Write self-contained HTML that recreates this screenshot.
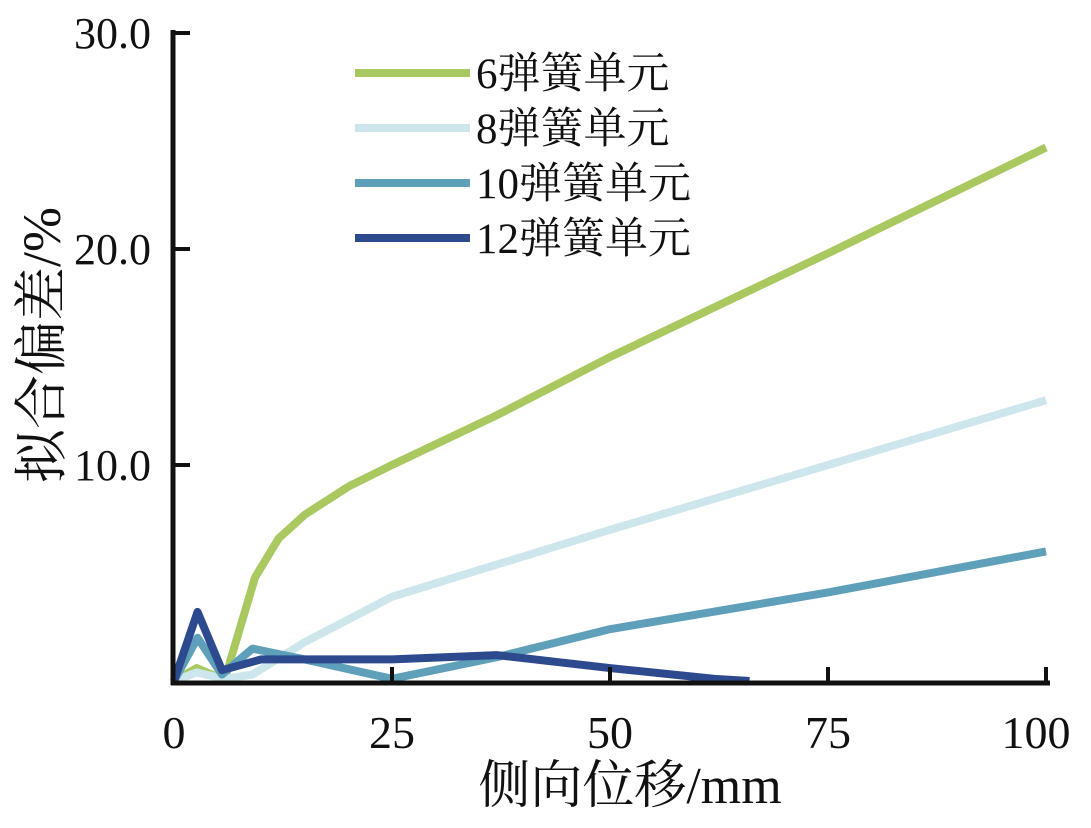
<!DOCTYPE html>
<html><head><meta charset="utf-8"><style>
body{margin:0;background:#fff}
text{font-family:"Liberation Serif","Noto Serif CJK SC",serif}
</style></head><body>
<svg id="chart" width="1091" height="823" xmlns="http://www.w3.org/2000/svg"></svg>
<script>
const xTicks=[0,25,50,75,100];
const yTicks=[10,20,30];
const yTickLabels=["10.0","20.0","30.0"];
const seriesNames=["6弹簧单元","8弹簧单元","10弹簧单元","12弹簧单元"];
const s6x=[0,2.6,5.8,9.3,12,15,20,25,37,50,75,100];
const s6y=[0,0.6,0.05,4.8,6.6,7.7,9.0,10,12.3,15,19.8,24.7];
const s8x=[0,2.6,5.8,9,15,25,50,75,100];
const s8y=[0,0.4,0.1,0.3,1.8,3.9,7,10,13];
const s10x=[0,2.7,5.5,9,15,25,37,50,75,100];
const s10y=[0,2,0.3,1.5,1,0.1,1.1,2.4,4.1,6];
const s12x=[0,2.7,5.5,10,25,37,50,62,66];
const s12y=[0,3.2,0.5,1,1,1.2,0.6,0.1,0];
const colors=["#a9c860","#cce6ec","#5e9fba","#2e4a8f"];
const NS="http://www.w3.org/2000/svg";
const svg=document.getElementById('chart');
const X=v=>174+v*8.72, Y=v=>681-v*21.6;
function mk(t,a,p){const e=document.createElementNS(NS,t);for(const k in a)e.setAttribute(k,a[k]);(p||svg).appendChild(e);return e;}
const xs=[s6x,s8x,s10x,s12x], ys=[s6y,s8y,s10y,s12y];
xs.forEach((sx,i)=>{
  const l=mk('polyline',{points:sx.map((x,j)=>X(x)+','+Y(ys[i][j])).join(' '),fill:'none',stroke:colors[i],'stroke-width':8,'stroke-linejoin':'round'});
  
  
});
let a=mk('line',{x1:173,y1:30,x2:173,y2:685,stroke:'#111','stroke-width':5});

a=mk('line',{x1:171,y1:683,x2:1050,y2:683,stroke:'#111','stroke-width':5});

xTicks.forEach(v=>{
  if(v>0){const t=mk('line',{x1:X(v),y1:683,x2:X(v),y2:667,stroke:'#111','stroke-width':4});
  }
  const tx=mk('text',{x:X(v)+(v==100?-10:0),y:748,'font-size':46,'text-anchor':'middle',fill:'#111'});tx.textContent=v;
  
});
yTicks.forEach((v,i)=>{
  const t=mk('line',{x1:171,y1:Y(v),x2:190,y2:Y(v),stroke:'#111','stroke-width':4});
  
  const tx=mk('text',{x:151,y:Y(v)+15,'font-size':44,'text-anchor':'end',fill:'#111'});tx.textContent=yTickLabels[i];
  
});
seriesNames.forEach((n,i)=>{
  const y=73+i*55;
  const l=mk('line',{x1:355,y1:y,x2:470,y2:y,stroke:colors[i],'stroke-width':8});
  
  const t=mk('text',{x:476,y:y+15,'font-size':43,fill:'#111'});t.textContent=n;
  
});
let t=mk('text',{x:630,y:803,'font-size':52,'text-anchor':'middle',fill:'#111'});t.textContent='侧向位移/mm';

t=mk('text',{x:0,y:0,'font-size':54,'text-anchor':'middle',fill:'#111',transform:'translate(60,345) rotate(-90)'});t.textContent='拟合偏差/%';

</script>
</body></html>
